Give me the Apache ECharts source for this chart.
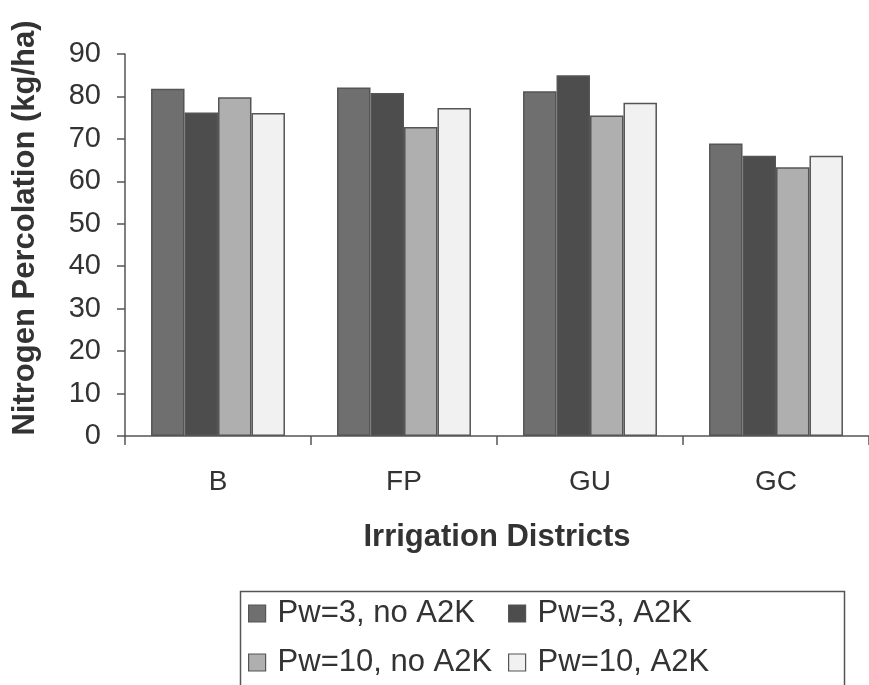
<!DOCTYPE html>
<html>
<head>
<meta charset="utf-8">
<script src="https://cdn.jsdelivr.net/npm/echarts@6/dist/echarts.min.js"></script>
<style>
html,body{margin:0;padding:0;background:#fff;}
#chart{width:869px;height:685px;}
</style>
</head>
<body>
<div id="chart"></div>
<script>
const categories = ['B', 'FP', 'GU', 'GC'];
const seriesNames = ['Pw=3, no A2K', 'Pw=3, A2K', 'Pw=10, no A2K', 'Pw=10, A2K'];
const pw3NoA2K = [81.8, 82.1, 81.2, 68.9];
const pw3A2K = [76.2, 80.8, 85.0, 66.0];
const pw10NoA2K = [79.8, 72.8, 75.5, 63.3];
const pw10A2K = [76.1, 77.3, 78.5, 66.0];
const yTicks = [0, 10, 20, 30, 40, 50, 60, 70, 80, 90];

const values = [pw3NoA2K, pw3A2K, pw10NoA2K, pw10A2K];
const colors = ['#6f6f6f', '#4d4d4d', '#afafaf', '#f1f1f1'];
const FONT = "'Liberation Sans', Arial, sans-serif";
const TXT = '#333333';

const chart = echarts.init(document.getElementById('chart'), null, {renderer: 'canvas'});

const series = seriesNames.map((name, i) => ({
  name: name,
  type: 'bar',
  data: values[i],
  barGap: '0%',
  barCategoryGap: '28%',
  itemStyle: {color: colors[i], borderColor: '#555555', borderWidth: 1.5},
  emphasis: {disabled: true},
  animation: false
}));

const legendCommon = {
  orient: 'vertical',
  icon: 'rect',
  padding: 0,
  height: 90,
  itemWidth: 17,
  itemHeight: 17,
  itemGap: 18,
  selectedMode: false,
  itemStyle: {borderColor: '#555555', borderWidth: 1.2},
  textStyle: {fontFamily: FONT, fontSize: 31, color: TXT, lineHeight: 30, padding: [0, 0, 0, 7]}
};

chart.setOption({
  backgroundColor: '#ffffff',
  animation: false,
  textStyle: {fontFamily: FONT},
  grid: {left: 125, right: -8, top: 54, bottom: 249, containLabel: false},
  legend: [
    Object.assign({}, legendCommon, {left: 248, top: 598, data: [seriesNames[0], seriesNames[2]]}),
    Object.assign({}, legendCommon, {left: 508, top: 598, data: [seriesNames[1], seriesNames[3]]})
  ],
  graphic: [{
    type: 'rect',
    left: 238, top: 589,
    shape: {width: 604, height: 130},
    style: {fill: 'none', stroke: '#555555', lineWidth: 1.5},
    silent: true
  }],
  xAxis: {
    type: 'category',
    data: categories,
    name: 'Irrigation Districts',
    nameLocation: 'middle',
    nameGap: 86,
    nameTextStyle: {fontFamily: FONT, fontSize: 31, fontWeight: 'bold', color: TXT},
    axisLine: {lineStyle: {color: '#555555', width: 1.5}},
    axisTick: {show: true, length: 9, lineStyle: {color: '#555555', width: 1.5}},
    axisLabel: {fontFamily: FONT, fontSize: 28, color: TXT, margin: 32}
  },
  yAxis: {
    type: 'value',
    min: yTicks[0],
    max: yTicks[yTicks.length - 1],
    interval: 10,
    name: 'Nitrogen Percolation (kg/ha)',
    nameLocation: 'middle',
    nameGap: 84,
    nameTextStyle: {fontFamily: FONT, fontSize: 31, fontWeight: 'bold', color: TXT, padding: [0, 0, 0, 34]},
    splitLine: {show: false},
    axisLine: {show: true, lineStyle: {color: '#555555', width: 1.5}},
    axisTick: {show: true, length: 8, lineStyle: {color: '#555555', width: 1.5}},
    axisLabel: {fontFamily: FONT, fontSize: 29, color: TXT, margin: 24}
  },
  series: series
});
</script>
</body>
</html>
